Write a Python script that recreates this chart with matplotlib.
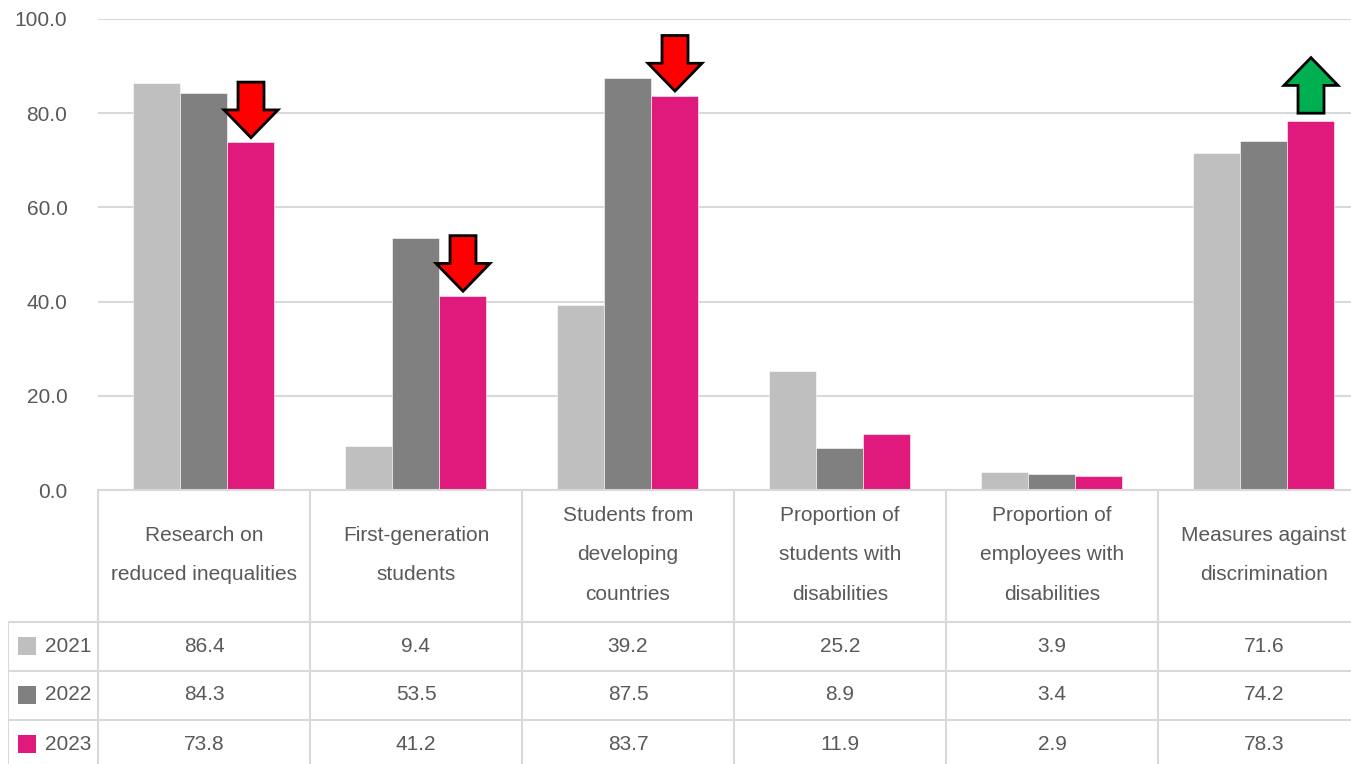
import matplotlib
matplotlib.use("Agg")
import matplotlib.pyplot as plt
from matplotlib.patches import Polygon, Rectangle
import numpy as np

plt.rcParams['font.family'] = ['Liberation Sans', 'DejaVu Sans']

categories = ["Research on\nreduced inequalities", "First-generation\nstudents",
              "Students from\ndeveloping\ncountries", "Proportion of\nstudents with\ndisabilities",
              "Proportion of\nemployees with\ndisabilities", "Measures against\ndiscrimination"]
years = ["2021", "2022", "2023"]
v2021 = [86.4, 9.4, 39.2, 25.2, 3.9, 71.6]
v2022 = [84.3, 53.5, 87.5, 8.9, 3.4, 74.2]
v2023 = [73.8, 41.2, 83.7, 11.9, 2.9, 78.3]
trend = ["down", "down", "down", None, None, "up"]
yticks = [0, 20, 40, 60, 80, 100]

colors = ["#BFBFBF", "#808080", "#DF1A7C"]
txt = "#595959"
grid = "#D9D9D9"
FS = 15

W, H = 1351, 764
fig = plt.figure(figsize=(W / 100, H / 100), dpi=100)

ax_l, ax_r = 98, 1370
ax_top, ax_bot = 19, 490
ax = fig.add_axes([ax_l / W, (H - ax_bot) / H, (ax_r - ax_l) / W, (ax_bot - ax_top) / H])
ax.set_xlim(-0.5, 5.5)
ax.set_ylim(0, 100)
for s in ["top", "right", "left"]:
    ax.spines[s].set_visible(False)
ax.spines["bottom"].set_color(grid)
ax.spines["bottom"].set_linewidth(1.5)
ax.set_yticks(yticks)
ax.set_yticklabels([f"{t:.1f}" for t in yticks], fontsize=FS, color=txt)
ax.tick_params(axis="y", length=0, pad=22)
ax.set_xticks([])
ax.yaxis.grid(True, color=grid, linewidth=1.5)
ax.set_axisbelow(True)

bw = 47 / 212
x = np.arange(len(categories))
series = [v2021, v2022, v2023]
for k, vals in enumerate(series):
    ax.bar(x + (k - 1) * bw, vals, width=bw, color=colors[k], edgecolor="white", linewidth=0.4)

# trend arrows
hw_head = 27 / 212
hw_shaft = 13 / 212
L = 11.8
HL = 5.9
for i, t in enumerate(trend):
    if t is None:
        continue
    cx = x[i] + bw
    v = v2023[i]
    if t == "down":
        tip = v + 1.0
        top = tip + L
        neck = tip + HL
        verts = [(cx - hw_shaft, top), (cx + hw_shaft, top), (cx + hw_shaft, neck),
                 (cx + hw_head, neck), (cx, tip), (cx - hw_head, neck), (cx - hw_shaft, neck)]
        fc = "#FF0000"
    else:
        base = v + 1.7
        tip = base + L
        neck = tip - HL
        verts = [(cx - hw_shaft, base), (cx + hw_shaft, base), (cx + hw_shaft, neck),
                 (cx + hw_head, neck), (cx, tip), (cx - hw_head, neck), (cx - hw_shaft, neck)]
        fc = "#00B050"
    ax.add_patch(Polygon(verts, closed=True, facecolor=fc, edgecolor="black",
                         linewidth=2, joinstyle="miter", clip_on=False, zorder=5))

# data table
tl = 8
tb_top, tb_bot = 490, 769
tax = fig.add_axes([tl / W, (H - tb_bot) / H, (ax_r - tl) / W, (tb_bot - tb_top) / H])
x_left = -0.5 - (ax_l - tl) / 212
tax.set_xlim(x_left, 5.5)
tax.set_ylim(tb_bot, tb_top)
tax.axis("off")

hdr_bot = 622
row_h = 49
row_lines = [hdr_bot + r * row_h for r in range(4)]
lw = 1.5
for i in range(7):
    tax.plot([-0.5 + i, -0.5 + i], [tb_top, tb_bot], color=grid, lw=lw, clip_on=False,
             solid_capstyle="butt")
tax.plot([x_left, x_left], [hdr_bot, tb_bot], color=grid, lw=lw, solid_capstyle="butt")
for yl in row_lines:
    tax.plot([x_left, 5.5], [yl, yl], color=grid, lw=lw, solid_capstyle="butt")

for i, c in enumerate(categories):
    tax.text(x[i], 555, c, ha="center", va="center", fontsize=FS, color=txt,
             linespacing=2.36)

for r, (yr, vals) in enumerate(zip(years, series)):
    yc = hdr_bot + row_h * (r + 0.5) - 0.5
    for i, v in enumerate(vals):
        tax.text(x[i], yc, f"{v:.1f}", ha="center", va="center", fontsize=FS, color=txt)
    sq = 18 / 212
    tax.add_patch(Rectangle((x_left + 10 / 212, yc - 9), sq, 18, facecolor=colors[r],
                            edgecolor="none"))
    tax.text(x_left + 37 / 212, yc, yr, ha="left", va="center", fontsize=FS, color=txt)

fig.savefig("out.png", dpi=100)
